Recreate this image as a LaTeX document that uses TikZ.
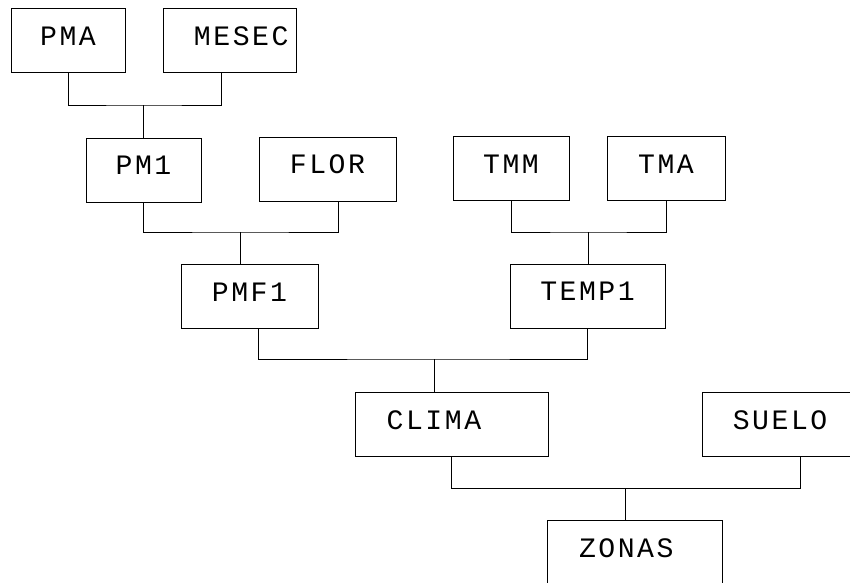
\documentclass[tikz,border=0pt]{standalone}
\usepackage{fontspec}
\setmonofont[LetterSpace=9]{Liberation Mono}
\usetikzlibrary{positioning}
\tikzset{box/.style={draw,line width=0.8pt,minimum height=1.92cm,text depth=8pt,inner sep=0pt,font=\ttfamily\fontsize{24}{28}\selectfont},
  link/.style={line width=0.8pt}}
\begin{document}
\begin{tikzpicture}[x=0.03cm,y=-0.03cm]
\clip(0,0)rectangle(850,582);
\fill[white](0,0)rectangle(850,582);
\node[box,minimum width=3.42cm](pma)at(68,40.5){PMA};
\node[box,minimum width=3.99cm](mesec)at(229.5,40.5){\hspace*{20pt}MESEC};
\node[box,minimum width=3.45cm](pm1)at(143.5,170){PM1};
\node[box,minimum width=4.11cm](flor)at(327.5,169){FLOR};
\node[box,minimum width=3.48cm](tmm)at(511,168.5){TMM};
\node[box,minimum width=3.54cm](tma)at(666,168.5){TMA};
\node[box,minimum width=4.11cm](pmf1)at(249.5,296.5){PMF1};
\node[box,minimum width=4.65cm](temp1)at(587.5,296){TEMP1};
\node[box,minimum width=5.79cm](clima)at(451.5,424.5){CLIMA\hspace*{30pt}};
\node[box,minimum width=5.88cm](suelo)at(800,424.5){SUELO\hspace*{34pt}};
\node[box,minimum width=5.25cm](zonas)at(634.5,552.5){ZONAS\hspace*{14pt}};
% junctions
\coordinate(j1)at(143,105);
\coordinate(j2)at(240,232);
\coordinate(j3)at(588,232);
\coordinate(j4)at(434,359);
\coordinate(j5)at(625,488);
\draw[link](pma.south)|-(j1)-|([xshift=-7pt]mesec.south);
\draw[link](pm1.south)|-(j2)-|([xshift=9pt]flor.south);
\draw[link](tmm.south)|-(j3)-|(tma.south);
\draw[link]([xshift=8pt]pmf1.south)|-(j4)-|(temp1.south);
\draw[link](clima.south)|-(j5)-|(suelo.south);
\foreach\a/\b in{j1/pm1,j2/pmf1,j3/temp1,j4/clima,j5/zonas}\draw[link](\a)--(\a|-\b.north);
\end{tikzpicture}
\end{document}
